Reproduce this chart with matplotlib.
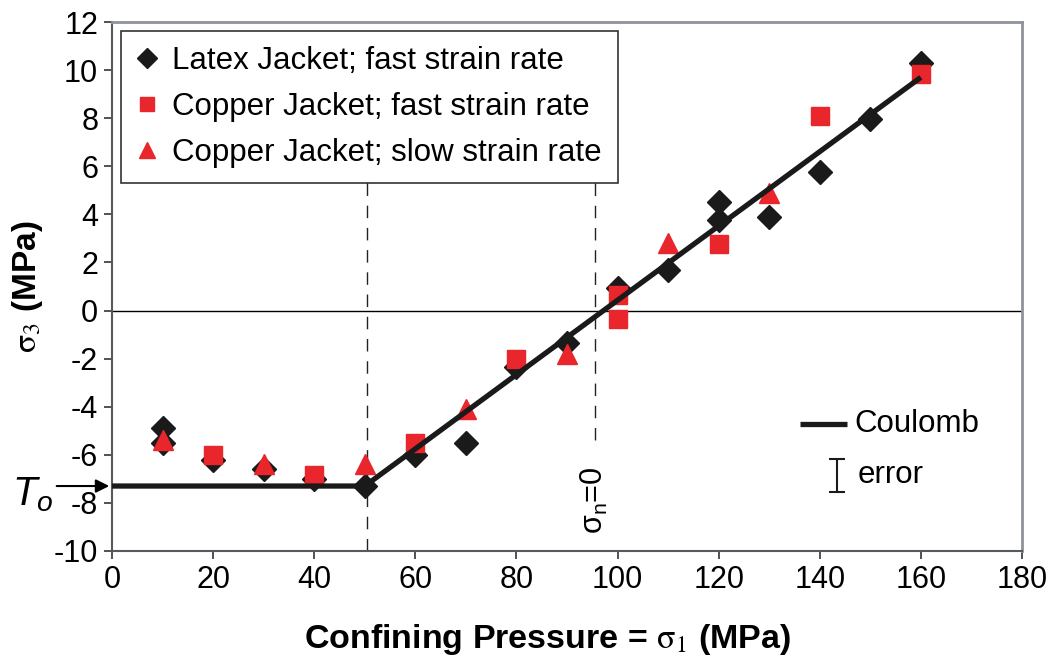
import matplotlib
matplotlib.use("Agg")
import matplotlib.pyplot as plt
import numpy as np

plt.rcParams['font.family'] = ['Liberation Sans', 'DejaVu Sans']
plt.rcParams['mathtext.fontset'] = 'stix'
plt.rcParams['mathtext.rm'] = 'Liberation Sans'
plt.rcParams['mathtext.it'] = 'Liberation Sans:italic'
plt.rcParams['mathtext.bf'] = 'Liberation Sans:bold'
plt.rcParams['axes.unicode_minus'] = False

# Data
latex_x = [10, 10, 20, 30, 40, 50, 60, 70, 80, 90, 100, 110, 120, 120, 130, 140, 150, 160]
latex_y = [-4.9, -5.5, -6.2, -6.6, -7.0, -7.3, -6.0, -5.5, -2.35, -1.35, 0.95, 1.7, 4.5, 3.75, 3.9, 5.75, 7.95, 10.3]
cu_fast_x = [20, 40, 60, 80, 100, 100, 120, 140, 160]
cu_fast_y = [-6.0, -6.85, -5.5, -2.0, 0.65, -0.35, 2.75, 8.1, 9.85]
cu_slow_x = [10, 30, 50, 70, 90, 110, 130]
cu_slow_y = [-5.4, -6.4, -6.4, -4.1, -1.8, 2.8, 4.9]
coulomb_x = [0, 50, 160]
coulomb_y = [-7.3, -7.3, 9.7]
knee_x = 50.5
sigma_n0_x = 95.5

red = '#E8262B'
dash = (0, (9, 7))

fig = plt.figure(figsize=(10.59, 6.67), dpi=100)
ax = fig.add_axes([0.1058, 0.174, 0.9650 - 0.1058, 0.967 - 0.174])
ax.set_xlim(0, 180)
ax.set_ylim(-10, 12)

def yfrac(v):
    return (v + 10) / 22

ax.axhline(0, color='black', lw=1.0, zorder=1)
ax.axvline(knee_x, ymin=0, ymax=yfrac(5.4), color='#222222', lw=1.0, ls=dash, zorder=1)
ax.axvline(sigma_n0_x, ymin=yfrac(-5.4), ymax=yfrac(5.4), color='#222222', lw=1.0, ls=dash, zorder=1)

l1, = ax.plot(latex_x, latex_y, 'D', color='#1a1a1a', ms=12, ls='none', zorder=3, label='Latex Jacket; fast strain rate')
l2, = ax.plot(cu_fast_x, cu_fast_y, 's', color=red, ms=12.5, ls='none', zorder=4, label='Copper Jacket; fast strain rate')
l3, = ax.plot(cu_slow_x, cu_slow_y, '^', color=red, ms=14, ls='none', zorder=4, label='Copper Jacket; slow strain rate')
ax.plot(coulomb_x, coulomb_y, color='#1a1a1a', lw=3.8, zorder=5, solid_capstyle='butt')

# spines
for s in ['top', 'right']:
    ax.spines[s].set_color('#8e9399')
    ax.spines[s].set_linewidth(2.0)
for s in ['left', 'bottom']:
    ax.spines[s].set_color('#555a60')
    ax.spines[s].set_linewidth(1.5)

ax.set_xticks(np.arange(0, 181, 20))
ax.set_yticks(np.arange(-10, 13, 2))
ax.tick_params(axis='both', labelsize=22, length=6, width=1.2, color='#333333', direction='out', pad=4)
ax.tick_params(top=False, right=False)

ax.set_xlabel(r'Confining Pressure = $\mathrm{\sigma}_{\mathrm{1}}$ (MPa)', fontsize=24.5, fontweight='bold')
ax.xaxis.set_label_coords((548 - 112) / 910, -0.135)
ax.set_ylabel(r'$\mathrm{\sigma}_{\mathrm{3}}$ (MPa)', fontsize=24, fontweight='bold', labelpad=6)

leg = ax.legend(handles=[l1, l2, l3], loc='upper left', bbox_to_anchor=(0.0, 1.0), fontsize=22.5,
                frameon=True, fancybox=False, edgecolor='black', handlelength=0.7, handletextpad=0.45,
                labelspacing=0.5, borderpad=0.5, borderaxespad=0.28, markerscale=0.85)
leg.get_frame().set_linewidth(1.2)

# sigma_n = 0 label
ax.text(sigma_n0_x, -7.9, r'σ$_{\mathrm{n}}$=0', rotation=90, fontsize=22, ha='center', va='center',
        math_fontfamily='custom')

# Coulomb key
ax.plot([136, 145.3], [-4.7, -4.7], color='#1a1a1a', lw=3.8, solid_capstyle='butt')
ax.text(146.8, -4.7, 'Coulomb', fontsize=22.5, va='center', ha='left')
ax.errorbar([143.5], [-6.85], yerr=[[0.68], [0.68]], fmt='none', ecolor='#1a1a1a', elinewidth=1.5, capsize=6, capthick=1.5)
ax.text(147.5, -6.85, 'error', fontsize=22.5, va='center', ha='left')

# T_o arrow
fig.text(0.011, 0.258, r'$T_{o}$', fontsize=29, ha='left', va='center', math_fontfamily='custom')
ax.annotate('', xy=(0, -7.3), xytext=(-11.5, -7.3),
            arrowprops=dict(arrowstyle='-|>', color='black', lw=1.5, mutation_scale=20),
            annotation_clip=False)

fig.savefig('out.png', dpi=100)
